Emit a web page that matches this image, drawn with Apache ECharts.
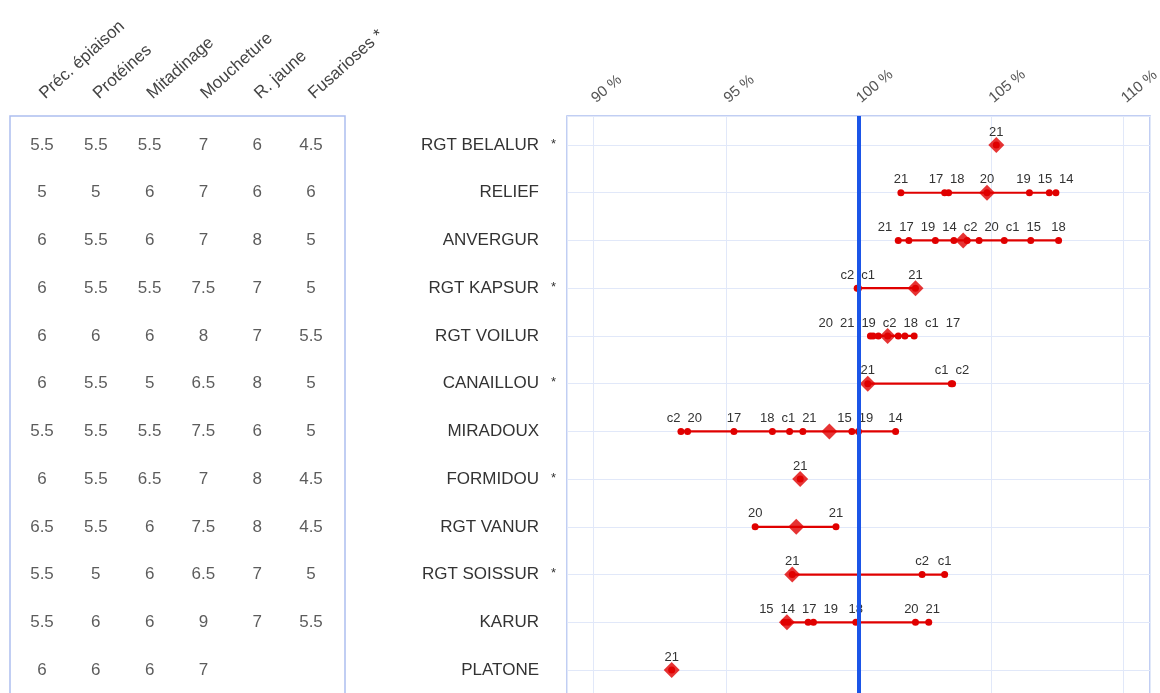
<!DOCTYPE html>
<html><head><meta charset="utf-8">
<script src="https://cdn.jsdelivr.net/npm/echarts@6/dist/echarts.min.js"></script>
<style>html,body{margin:0;padding:0;background:#fff}#c{width:1160px;height:693px}</style>
</head><body><div id="c"></div>
<script>
// ---------- DATA ----------
const varieties = ['RGT BELALUR','RELIEF','ANVERGUR','RGT KAPSUR','RGT VOILUR','CANAILLOU','MIRADOUX','FORMIDOU','RGT VANUR','RGT SOISSUR','KARUR','PLATONE'];
const starred = [true,false,false,true,false,true,false,true,false,true,false,false];
const criteria = ['Préc. épiaison','Protéines','Mitadinage','Moucheture','R. jaune','Fusarioses *'];
const notes = [
  ['5.5','5.5','5.5','7','6','4.5'],
  ['5','5','6','7','6','6'],
  ['6','5.5','6','7','8','5'],
  ['6','5.5','5.5','7.5','7','5'],
  ['6','6','6','8','7','5.5'],
  ['6','5.5','5','6.5','8','5'],
  ['5.5','5.5','5.5','7.5','6','5'],
  ['6','5.5','6.5','7','8','4.5'],
  ['6.5','5.5','6','7.5','8','4.5'],
  ['5.5','5','6','6.5','7','5'],
  ['5.5','6','6','9','7','5.5'],
  ['6','6','6','7','','']
];
const pointLabels = [
  ['21'],
  ['21','17','18','20','19','15','14'],
  ['21','17','19','14','c2','20','c1','15','18'],
  ['c2','c1','21'],
  ['20','21','19','c2','18','c1','17'],
  ['21','c1','c2'],
  ['c2','20','17','18','c1','21','15','19','14'],
  ['21'],
  ['20','21'],
  ['21','c2','c1'],
  ['15','14','17','19','18','20','21'],
  ['21']
];
const pointValues = [
  [105.2],
  [101.6,103.25,103.4,104.85,106.45,107.2,107.45],
  [101.5,101.9,102.9,103.6,104.1,104.55,105.5,106.5,107.55],
  [99.95,100.0,102.15],
  [100.45,100.55,100.75,101.1,101.5,101.75,102.1],
  [100.35,103.5,103.55],
  [93.3,93.55,95.3,96.75,97.4,97.9,99.75,100.0,101.4],
  [97.8],
  [96.1,99.15],
  [97.5,102.4,103.25],
  [97.2,97.35,98.1,98.3,99.9,102.15,102.65],
  [92.95]
];
const meanValues = [105.2,104.85,103.95,102.15,101.1,100.35,98.9,97.8,97.65,97.5,97.3,92.95];
const xMin = 89, xMax = 111, xStep = 5, refValue = 100;

// ---------- STYLE ----------
const FONT = 'Liberation Sans, Arial, sans-serif';
const RED = '#e00000';
const BORDER = '#adbef0';
const GRIDLINE = '#e1e8f9';
const ROW_MIN = -0.6076, ROW_MAX = 11.544;
const COL_MIN = -0.595, COL_MAX = 5.632;
const GAP = 7;

const chart = echarts.init(document.getElementById('c'));

function rowAxis(gridIndex, withLabels) {
  return {
    type:'value', gridIndex, inverse:true, min:ROW_MIN, max:ROW_MAX, minInterval:1, maxInterval:1,
    axisLine:{show:false}, axisTick:{show:false},
    splitLine:{show:withLabels, lineStyle:{color:GRIDLINE, width:1}},
    axisLabel: withLabels ? {
      show:true, margin:11, fontFamily:FONT,
      formatter: v => (Number.isInteger(v) && v >= 0 && v < varieties.length) ? `{n|${varieties[v]}}{s|${starred[v] ? '*' : ''}}` : '',
      rich:{ n:{fontSize:17, color:'#333', fontFamily:FONT}, s:{fontSize:13, width:17, align:'right', color:'#333', fontFamily:FONT, padding:[0,0,2,0]} }
    } : {show:false}
  };
}

function pointSeries(offsets) {
  return varieties.map((name, r) => {
    const order = pointValues[r].map((v,i)=>i).sort((a,b)=>pointValues[r][a]-pointValues[r][b]);
    return {
      type:'line', xAxisIndex:1, yAxisIndex:1, z:3, silent:true,
      symbol:'circle', symbolSize:7, showSymbol:true,
      lineStyle:{color:RED, width:2.2}, itemStyle:{color:RED},
      label:{show:true, position:'top', distance:3, fontSize:13, fontFamily:FONT, color:'#333', formatter:p => p.data.lab},
      emphasis:{disabled:true},
      data: order.map(i => {
        const d = {value:[pointValues[r][i], r], lab:pointLabels[r][i]};
        if (offsets) d.label = {offset:[offsets[r][i], 0]};
        return d;
      })
    };
  });
}

function buildOption(offsets) {
  const tableData = [];
  notes.forEach((row, r) => row.forEach((t, c) => { if (t !== '') tableData.push([c, r, t]); }));
  return {
    animation:false,
    backgroundColor:'#fff',
    grid:[
      {left:10, width:335, top:116, bottom:-3, show:true, borderColor:BORDER, borderWidth:1.5, backgroundColor:'transparent', containLabel:false, outerBoundsMode:'none'},
      {left:567, right:10, top:116, bottom:-3, show:true, borderColor:BORDER, borderWidth:1.5, backgroundColor:'transparent', containLabel:false, outerBoundsMode:'none'}
    ],
    xAxis:[
      {type:'value', gridIndex:0, position:'top', min:COL_MIN, max:COL_MAX, minInterval:1, maxInterval:1,
       axisLine:{show:false}, axisTick:{show:false}, splitLine:{show:false},
       axisLabel:{show:true, rotate:42, margin:20, fontSize:17, color:'#444', fontFamily:FONT,
         verticalAlign:'middle',
         formatter:v => (Number.isInteger(v) && v >= 0 && v < criteria.length) ? criteria[v] : ''}},
      {type:'value', gridIndex:1, position:'top', min:xMin, max:xMax, minInterval:xStep, maxInterval:xStep,
       axisLine:{show:false}, axisTick:{show:false},
       splitLine:{show:true, lineStyle:{color:GRIDLINE, width:1}},
       axisLabel:{show:true, rotate:40, margin:16, fontSize:15, color:'#555', fontFamily:FONT,
         verticalAlign:'middle',
         formatter:v => (v % xStep === 0) ? v + ' %' : ''}}
    ],
    yAxis:[ rowAxis(0, false), rowAxis(1, true) ],
    series:[
      {type:'scatter', xAxisIndex:0, yAxisIndex:0, silent:true, symbolSize:1,
       itemStyle:{color:'rgba(0,0,0,0)'},
       label:{show:true, position:'inside', fontSize:17, color:'#333', fontFamily:FONT, formatter:p => p.data[2]},
       data:tableData},
      {type:'line', xAxisIndex:1, yAxisIndex:1, z:2, silent:true, data:[],
       markLine:{silent:true, symbol:['none','none'], label:{show:false},
         lineStyle:{color:'#1b55e8', width:4, type:'solid'}, data:[{xAxis:refValue}]}},
      ...pointSeries(offsets),
      {type:'scatter', xAxisIndex:1, yAxisIndex:1, z:4, silent:true, symbol:'diamond', symbolSize:16,
       itemStyle:{color:RED}, data:meanValues.map((v, r) => [v, r])}
    ]
  };
}

chart.setOption(buildOption(null));

// simple label repel: spread labels horizontally so they do not overlap
const ctx = document.createElement('canvas').getContext('2d');
ctx.font = '13px "Liberation Sans", Arial, sans-serif';
const offsets = pointValues.map((vals, r) => {
  const items = vals.map((v, i) => ({i, px:chart.convertToPixel({xAxisIndex:1, yAxisIndex:1}, [v, r])[0], w:ctx.measureText(pointLabels[r][i]).width}));
  items.forEach(it => it.c = it.px);
  items.sort((a, b) => a.px - b.px);
  for (let iter = 0; iter < 500; iter++) {
    let moved = false;
    for (let k = 1; k < items.length; k++) {
      const a = items[k-1], b = items[k];
      const need = (a.w + b.w) / 2 + GAP;
      const d = b.c - a.c;
      if (d < need - 0.01) { const s = (need - d) / 2; a.c -= s; b.c += s; moved = true; }
    }
    if (!moved) break;
  }
  const out = [];
  items.forEach(it => out[it.i] = it.c - it.px);
  return out;
});
chart.setOption(buildOption(offsets), true);
</script>
</body></html>
